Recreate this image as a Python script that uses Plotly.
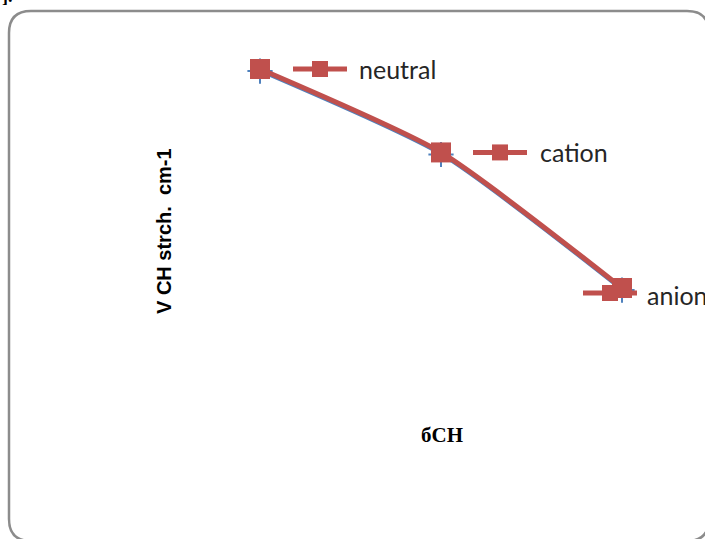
import plotly.graph_objects as go

# ---- data ----
categories = [1, 2, 3]
labels = ["neutral", "cation", "anion"]
red_values = [3100, 3060, 2995]
blue_values = [3099, 3059, 2994]

W, H = 705, 539
RED = "#C0504D"
BLUE = "#4F81BD"

fig = go.Figure()
fig.add_trace(go.Scatter(
    x=categories, y=blue_values, mode="lines+markers",
    line=dict(color=BLUE, width=3, shape="spline", smoothing=0.6),
    marker=dict(symbol="cross-thin", size=18, line=dict(color=BLUE, width=2)),
    showlegend=False, hoverinfo="skip"))
fig.add_trace(go.Scatter(
    x=categories, y=red_values, mode="lines+markers",
    line=dict(color=RED, width=5, shape="spline", smoothing=0.6),
    marker=dict(symbol="square", size=20, color=RED),
    showlegend=False))

# data-label keys (line + square) and texts, placed relative to each point
key_offsets = [(33, 0), (32, 0), (-39, -5)]
text_offsets = [(97, 0), (97, 0), (23, -7)]
shapes = []
annotations = []
for cx, cy, lab, (kx, ky), (tx, ty) in zip(categories, red_values, labels, key_offsets, text_offsets):
    shapes.append(dict(type="line", xref="x", yref="y", xsizemode="pixel", ysizemode="pixel",
                       xanchor=cx, yanchor=cy, x0=kx, x1=kx + 54, y0=ky, y1=ky,
                       line=dict(color=RED, width=5), layer="above"))
    shapes.append(dict(type="rect", xref="x", yref="y", xsizemode="pixel", ysizemode="pixel",
                       xanchor=cx, yanchor=cy, x0=kx + 19, x1=kx + 35, y0=ky - 8, y1=ky + 8,
                       fillcolor=RED, line=dict(width=0), layer="above"))
    annotations.append(dict(x=cx, y=cy, xref="x", yref="y", text=lab, showarrow=False,
                            xanchor="left", yanchor="middle", xshift=tx, yshift=ty,
                            font=dict(family="Lato, Noto Sans, sans-serif", size=25, color="#262626")))

# rounded border
l, t, r, b, rad = 9, 11, 709, 541, 22
def px(x): return x / W
def py(y): return 1 - y / H
path = (f"M {px(l+rad)},{py(t)} L {px(r-rad)},{py(t)} "
        f"Q {px(r)},{py(t)} {px(r)},{py(t+rad)} L {px(r)},{py(b-rad)} "
        f"Q {px(r)},{py(b)} {px(r-rad)},{py(b)} L {px(l+rad)},{py(b)} "
        f"Q {px(l)},{py(b)} {px(l)},{py(b-rad)} L {px(l)},{py(t+rad)} "
        f"Q {px(l)},{py(t)} {px(l+rad)},{py(t)} Z")
shapes.append(dict(type="path", xref="paper", yref="paper", path=path,
                   line=dict(color="#8C8C8C", width=2.5), layer="below"))

annotations.append(dict(x=px(151), y=py(231), xref="paper", yref="paper", text="<b>V CH strch.  cm-1</b>",
                        textangle=-90, showarrow=False,
                        font=dict(family="Liberation Sans, Arial, sans-serif", size=20, color="#000")))
annotations.append(dict(x=px(442), y=py(449), xref="paper", yref="paper", text="<b>бCH</b>",
                        showarrow=False,
                        font=dict(family="Liberation Serif, Times New Roman, serif", size=21, color="#000")))
annotations.append(dict(x=0, y=py(8), xref="paper", yref="paper", text="<b>].</b>",
                        showarrow=False, xanchor="left", yanchor="bottom",
                        font=dict(family="Liberation Serif, serif", size=18, color="#000")))

fig.update_layout(
    width=W, height=H, margin=dict(l=0, r=0, t=0, b=0),
    paper_bgcolor="white", plot_bgcolor="white",
    xaxis=dict(range=[1 - 260 / 181, 1 + (705 - 260) / 181], visible=False, fixedrange=True),
    yaxis=dict(range=[3100 - (539 - 69) / (219 / 105), 3100 + 69 / (219 / 105)], visible=False, fixedrange=True),
    shapes=shapes, annotations=annotations, showlegend=False,
)
fig.write_html("out.html", config={"displayModeBar": False},
               post_script="document.body.style.margin='0px';document.body.style.overflow='hidden';")
